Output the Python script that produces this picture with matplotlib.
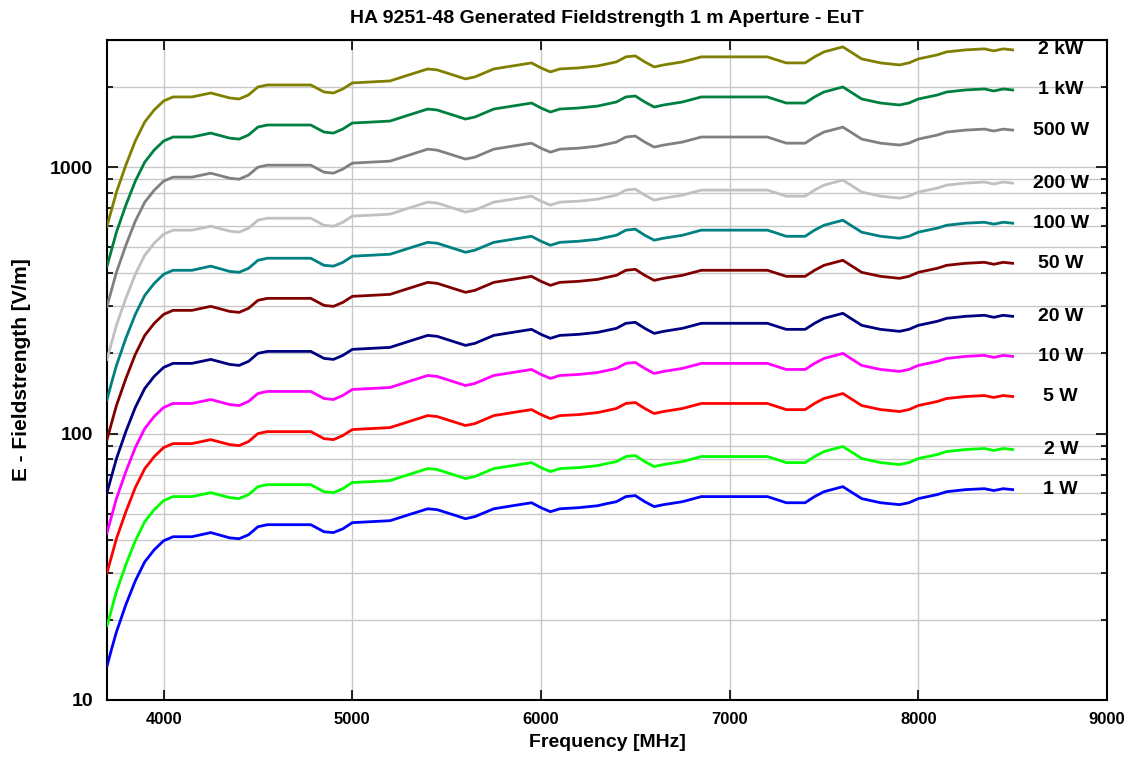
import numpy as np
import matplotlib
matplotlib.use("Agg")
import matplotlib.pyplot as plt
from matplotlib.ticker import LogLocator, NullFormatter, FixedLocator

plt.rcParams['font.family'] = ['Liberation Sans', 'DejaVu Sans']
plt.rcParams['font.weight'] = 'bold'

# frequency grid (MHz)
freq = [3700, 3725, 3750, 3800, 3850, 3900, 3950, 4000, 4050, 4150,
        4250, 4350, 4400, 4450, 4500, 4550, 4780, 4850, 4900, 4950,
        5000, 5100, 5200, 5300, 5400, 5450, 5550, 5600, 5650, 5750,
        5850, 5950, 6000, 6050, 6100, 6200, 6300, 6350, 6400, 6450,
        6500, 6550, 6600, 6650, 6750, 6850, 6950, 7000, 7200, 7250,
        7300, 7400, 7450, 7500, 7600, 7650, 7700, 7800, 7900, 7950,
        8000, 8100, 8150, 8250, 8350, 8400, 8450, 8500]

# field strength in V/m for each power level
e_1w = [13.4, 15.6, 18.0, 22.8, 28.0, 33.0, 36.6, 39.6, 41.0, 41.0,
        42.5, 40.6, 40.3, 41.7, 44.7, 45.5, 45.5, 42.8, 42.5, 43.9,
        46.3, 46.7, 47.1, 49.6, 52.2, 51.8, 49.2, 47.9, 48.8, 52.2,
        53.6, 55.0, 52.7, 50.9, 52.2, 52.7, 53.6, 54.6, 55.5, 58.0,
        58.5, 55.5, 53.2, 54.1, 55.5, 58.0, 58.0, 58.0, 58.0, 56.5,
        55.0, 55.0, 58.0, 60.5, 63.2, 60.0, 57.0, 55.0, 54.1, 55.0,
        57.0, 59.0, 60.5, 61.6, 62.1, 61.1, 62.1, 61.6]
e_2w = [19.0, 22.0, 25.5, 32.2, 39.6, 46.7, 51.8, 56.0, 58.0, 58.0,
        60.0, 57.5, 57.0, 59.0, 63.2, 64.3, 64.3, 60.5, 60.0, 62.1,
        65.5, 66.0, 66.6, 70.2, 73.9, 73.3, 69.6, 67.8, 69.0, 73.9,
        75.8, 77.8, 74.5, 72.0, 73.9, 74.5, 75.8, 77.2, 78.5, 82.0,
        82.7, 78.5, 75.2, 76.5, 78.5, 82.0, 82.0, 82.0, 82.0, 79.9,
        77.8, 77.8, 82.0, 85.6, 89.4, 84.9, 80.6, 77.8, 76.5, 77.8,
        80.6, 83.4, 85.6, 87.1, 87.9, 86.4, 87.9, 87.1]
e_5w = [30.0, 34.8, 40.3, 50.9, 62.7, 73.8, 81.9, 88.6, 91.7, 91.7,
        94.9, 90.9, 90.1, 93.3, 100.0, 101.7, 101.7, 95.7, 94.9, 98.3,
        103.5, 104.4, 105.3, 110.9, 116.8, 115.8, 110.0, 107.2, 109.0, 116.8,
        119.9, 123.0, 117.8, 113.8, 116.8, 117.8, 119.9, 122.0, 124.2, 129.7,
        130.8, 124.2, 118.9, 121.0, 124.2, 129.7, 129.7, 129.7, 129.7, 126.3,
        123.0, 123.0, 129.7, 135.4, 141.3, 134.2, 127.4, 123.0, 121.0, 123.0,
        127.4, 131.9, 135.4, 137.7, 138.9, 136.6, 138.9, 137.7]
e_10w = [42.4, 49.2, 57.0, 72.0, 88.6, 104.4, 115.9, 125.3, 129.7, 129.7,
         134.2, 128.5, 127.4, 132.0, 141.4, 143.9, 143.9, 135.4, 134.2, 139.0,
         146.4, 147.6, 148.9, 156.9, 165.2, 163.8, 155.5, 151.5, 154.2, 165.2,
         169.5, 174.0, 166.7, 161.0, 165.2, 166.7, 169.5, 172.5, 175.6, 183.4,
         184.9, 175.6, 168.1, 171.1, 175.6, 183.4, 183.4, 183.4, 183.4, 178.6,
         174.0, 174.0, 183.4, 191.4, 199.9, 189.8, 180.2, 174.0, 171.1, 174.0,
         180.2, 186.5, 191.4, 194.8, 196.5, 193.1, 196.5, 194.8]
e_20w = [60.0, 69.5, 80.5, 101.8, 125.4, 147.7, 163.9, 177.1, 183.4, 183.4,
         189.8, 181.8, 180.2, 186.6, 200.0, 203.4, 203.4, 191.5, 189.8, 196.5,
         207.0, 208.8, 210.6, 221.9, 233.6, 231.7, 219.9, 214.3, 218.1, 233.6,
         239.8, 246.1, 235.7, 227.7, 233.6, 235.7, 239.8, 244.0, 248.3, 259.3,
         261.5, 248.3, 237.7, 241.9, 248.3, 259.3, 259.3, 259.3, 259.3, 252.6,
         246.1, 246.1, 259.3, 270.7, 282.7, 268.4, 254.8, 246.1, 241.9, 246.1,
         254.8, 263.8, 270.7, 275.4, 277.9, 273.1, 277.9, 275.4]
e_50w = [94.9, 110.0, 127.4, 160.9, 198.2, 233.5, 259.1, 280.1, 290.0, 290.0,
         300.2, 287.4, 285.0, 295.1, 316.2, 321.7, 321.7, 302.7, 300.2, 310.7,
         327.3, 330.1, 333.0, 350.8, 369.4, 366.3, 347.8, 338.9, 344.8, 369.4,
         379.1, 389.1, 372.7, 360.0, 369.4, 372.7, 379.1, 385.8, 392.6, 410.0,
         413.5, 392.6, 375.8, 382.5, 392.6, 410.0, 410.0, 410.0, 410.0, 399.4,
         389.1, 389.1, 410.0, 428.0, 447.0, 424.3, 402.8, 389.1, 382.5, 389.1,
         402.8, 417.1, 428.0, 435.5, 439.3, 431.8, 439.3, 435.5]
e_100w = [134, 156, 180, 228, 280, 330, 366, 396, 410, 410,
          425, 406, 403, 417, 447, 455, 455, 428, 425, 439,
          463, 467, 471, 496, 522, 518, 492, 479, 488, 522,
          536, 550, 527, 509, 522, 527, 536, 546, 555, 580,
          585, 555, 532, 541, 555, 580, 580, 580, 580, 565,
          550, 550, 580, 605, 632, 600, 570, 550, 541, 550,
          570, 590, 605, 616, 621, 611, 621, 616]
e_200w = [190, 220, 255, 322, 396, 467, 518, 560, 580, 580,
          600, 575, 570, 590, 632, 643, 643, 605, 600, 621,
          655, 660, 666, 702, 739, 733, 696, 678, 690, 739,
          758, 778, 745, 720, 739, 745, 758, 772, 785, 820,
          827, 785, 752, 765, 785, 820, 820, 820, 820, 799,
          778, 778, 820, 856, 894, 849, 806, 778, 765, 778,
          806, 834, 856, 871, 879, 864, 879, 871]
e_500w = [300, 348, 403, 509, 627, 738, 819, 886, 917, 917,
          949, 909, 901, 933, 1000, 1017, 1017, 957, 949, 983,
          1035, 1044, 1053, 1109, 1168, 1158, 1100, 1072, 1090, 1168,
          1199, 1230, 1178, 1138, 1168, 1178, 1199, 1220, 1242, 1297,
          1308, 1242, 1189, 1210, 1242, 1297, 1297, 1297, 1297, 1263,
          1230, 1230, 1297, 1354, 1413, 1342, 1274, 1230, 1210, 1230,
          1274, 1319, 1354, 1377, 1389, 1366, 1389, 1377]
e_1kw = [424, 492, 570, 720, 886, 1044, 1159, 1253, 1297, 1297,
         1342, 1285, 1274, 1320, 1414, 1439, 1439, 1354, 1342, 1390,
         1464, 1476, 1489, 1569, 1652, 1638, 1555, 1515, 1542, 1652,
         1695, 1740, 1667, 1610, 1652, 1667, 1695, 1725, 1756, 1834,
         1849, 1756, 1681, 1711, 1756, 1834, 1834, 1834, 1834, 1786,
         1740, 1740, 1834, 1914, 1999, 1898, 1802, 1740, 1711, 1740,
         1802, 1865, 1914, 1948, 1965, 1931, 1965, 1948]
e_2kw = [600, 695, 805, 1018, 1254, 1477, 1639, 1771, 1834, 1834,
         1898, 1818, 1802, 1866, 2000, 2034, 2034, 1915, 1898, 1965,
         2070, 2088, 2106, 2219, 2336, 2317, 2199, 2143, 2181, 2336,
         2398, 2461, 2357, 2277, 2336, 2357, 2398, 2440, 2483, 2593,
         2615, 2483, 2377, 2419, 2483, 2593, 2593, 2593, 2593, 2526,
         2461, 2461, 2593, 2707, 2827, 2684, 2548, 2461, 2419, 2461,
         2548, 2638, 2707, 2754, 2779, 2731, 2779, 2754]

labels = ['2 kW', '1 kW', '500 W', '200 W', '100 W', '50 W',
          '20 W', '10 W', '5 W', '2 W', '1 W']
series = [e_2kw, e_1kw, e_500w, e_200w, e_100w, e_50w,
          e_20w, e_10w, e_5w, e_2w, e_1w]
colors = ['#808000', '#008040', '#808080', '#c0c0c0', '#008080', '#800000',
          '#000080', '#ff00ff', '#ff0000', '#00ff00', '#0000ff']

fig = plt.figure(figsize=(11.35, 7.6), dpi=100)
ax = fig.add_axes([107 / 1135, 60 / 760, 1000 / 1135, 660 / 760])

for vals, lab, col in zip(series, labels, colors):
    ax.plot(freq, vals, color=col, lw=2.0, zorder=3)
    ax.text(8755, vals[-1], lab, ha='center', va='center',
            fontsize=14, fontweight='bold')

ax.set_yscale('log')
ax.set_xlim(3700, 9000)
ax.set_ylim(10, 3000)
ax.xaxis.set_major_locator(FixedLocator([4000, 5000, 6000, 7000, 8000, 9000]))
ax.yaxis.set_major_locator(FixedLocator([10, 100, 1000]))
ax.yaxis.set_minor_locator(LogLocator(base=10, subs=np.arange(2, 10)))
ax.yaxis.set_minor_formatter(NullFormatter())
ax.set_yticklabels(['10', '100', '1000'])

ax.grid(True, which='major', axis='x', color='#c8c8c8', lw=1.0, zorder=0)
ax.grid(True, which='both', axis='y', color='#c8c8c8', lw=1.0, zorder=0)

ax.tick_params(axis='both', which='both', direction='in',
               top=True, right=True, width=1.2)
ax.tick_params(axis='x', which='major', length=7, labelsize=12, pad=9)
ax.tick_params(axis='y', which='major', length=8, labelsize=14, pad=10)
ax.tick_params(axis='y', which='minor', length=4)
for s in ax.spines.values():
    s.set_linewidth(1.5)

ax.set_title('HA 9251-48 Generated Fieldstrength 1 m Aperture - EuT',
             fontsize=14, fontweight='bold', pad=12)
ax.set_xlabel('Frequency [MHz]', fontsize=14, fontweight='bold', labelpad=5)
ax.set_ylabel('E - Fieldstrength [V/m]', fontsize=15, fontweight='bold',
              labelpad=14)

fig.savefig('out.png', dpi=100)
